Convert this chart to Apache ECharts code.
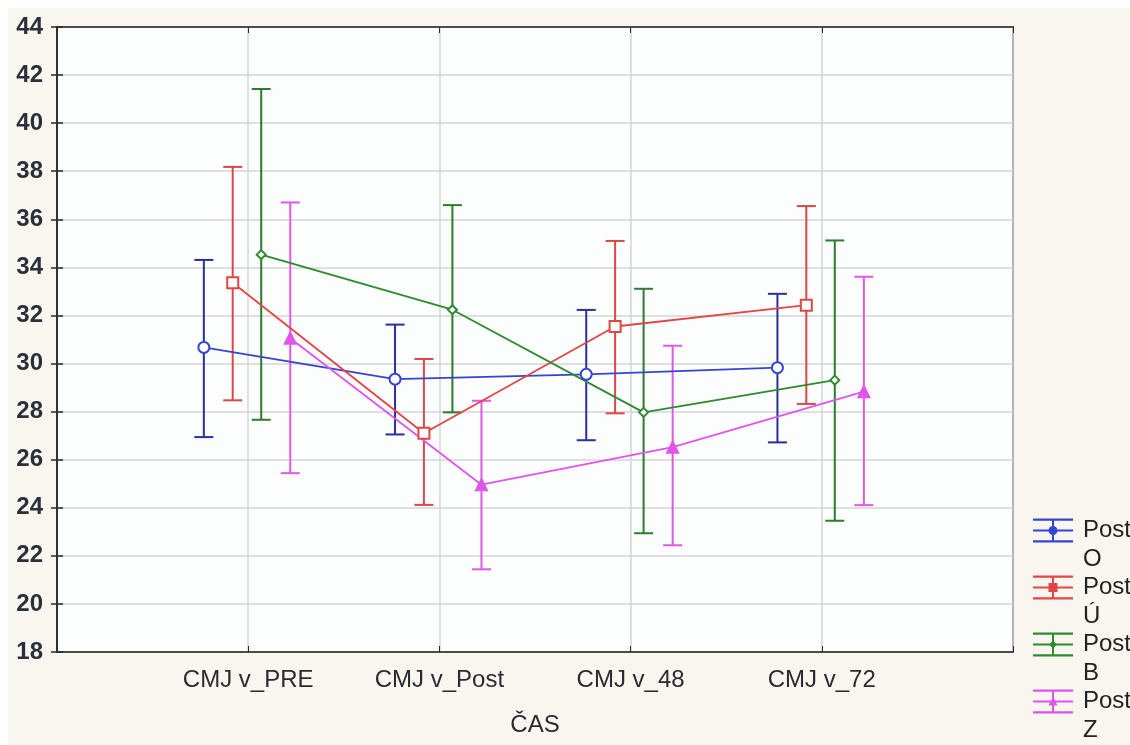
<!DOCTYPE html>
<html>
<head>
<meta charset="utf-8">
<script src="https://cdn.jsdelivr.net/npm/echarts@6/dist/echarts.min.js"></script>
<style>
  html, body { margin: 0; padding: 0; background: #ffffff; width: 1130px; height: 745px; overflow: hidden; }
  #chart { position: absolute; left: 8px; top: 8px; width: 1122px; height: 737px; background: #f8f6ee; }
</style>
</head>
<body>
<div id="chart"></div>
<script>
// ---- data ----
const categories = ['CMJ v_PRE', 'CMJ v_Post', 'CMJ v_48', 'CMJ v_72'];
const yTicks = [18, 20, 22, 24, 26, 28, 30, 32, 34, 36, 38, 40, 42, 44];
const seriesNames = ['Post O', 'Post Ú', 'Post B', 'Post Z'];

const postO_mean = [30.67, 29.35, 29.55, 29.83];
const postO_low  = [26.94, 27.05, 26.81, 26.72];
const postO_high = [34.31, 31.62, 32.23, 32.90];

const postU_mean = [33.36, 27.10, 31.54, 32.43];
const postU_low  = [28.47, 24.12, 27.93, 28.32];
const postU_high = [38.18, 30.19, 35.10, 36.55];

const postB_mean = [34.53, 32.24, 27.97, 29.31];
const postB_low  = [27.66, 27.97, 22.94, 23.46];
const postB_high = [41.42, 36.59, 33.11, 35.12];

const postZ_mean = [31.05, 24.96, 26.52, 28.83];
const postZ_low  = [25.44, 21.44, 22.44, 24.11];
const postZ_high = [36.70, 28.45, 30.74, 33.61];

// ---- styling ----
const colors = ['#3444d4', '#e04646', '#2e8a2e', '#e055ea'];
const barColors = ['#26309e', '#d84848', '#2e7a2e', '#df58e6'];
const offsets = [-0.232, -0.081, 0.068, 0.220];
const symbols = ['emptyCircle', 'emptyRect', 'emptyDiamond', 'triangle'];
const symbolSizes = [11, 11, 9, 11];
const FONT = 'Liberation Sans, Arial, sans-serif';

const groups = [
  {mean: postO_mean, low: postO_low, high: postO_high},
  {mean: postU_mean, low: postU_low, high: postU_high},
  {mean: postB_mean, low: postB_low, high: postB_high},
  {mean: postZ_mean, low: postZ_low, high: postZ_high}
];

const iconBars = 'M0,0H40V2.2H0Z M0,21.8H40V24H0Z M0,10.9H40V13.1H0Z M19,0H21V24H19Z ';
const iconMarkers = [
  'M15.5,12A4.5,4.5 0 1,1 24.5,12A4.5,4.5 0 1,1 15.5,12Z',
  'M15.5,7.5H24.5V16.5H15.5Z',
  'M20,8L24,12L20,16L16,12Z',
  'M20,7L24.5,16H15.5Z'
];

const series = [];
groups.forEach((g, k) => {
  series.push({
    type: 'custom',
    name: seriesNames[k],
    z: 3,
    data: categories.map((c, i) => [i + 1 + offsets[k], g.low[i], g.high[i]]),
    renderItem: function (params, api) {
      const x = api.value(0);
      const lo = api.coord([x, api.value(1)]);
      const hi = api.coord([x, api.value(2)]);
      const half = 9.5;
      const st = {stroke: barColors[k], lineWidth: 2};
      return {
        type: 'group',
        children: [
          {type: 'line', shape: {x1: hi[0], y1: hi[1], x2: lo[0], y2: lo[1]}, style: st},
          {type: 'line', shape: {x1: hi[0] - half, y1: hi[1], x2: hi[0] + half, y2: hi[1]}, style: st},
          {type: 'line', shape: {x1: lo[0] - half, y1: lo[1], x2: lo[0] + half, y2: lo[1]}, style: st}
        ]
      };
    },
    silent: true
  });
  series.push({
    type: 'line',
    name: seriesNames[k],
    z: 4,
    data: categories.map((c, i) => [i + 1 + offsets[k], g.mean[i]]),
    symbol: symbols[k],
    symbolSize: symbolSizes[k],
    showSymbol: true,
    lineStyle: {color: colors[k], width: 1.8},
    itemStyle: {color: colors[k], borderColor: colors[k], borderWidth: 2},
    silent: true,
    animation: false
  });
});

const legendTops = [479, 536, 593, 650];
const legends = seriesNames.map((n, k) => ({
  data: [{name: n, icon: 'path://' + iconBars + iconMarkers[k], itemStyle: {color: colors[k]}}],
  orient: 'vertical',
  left: 1025,
  top: legendTops[k],
  padding: 0,
  itemWidth: 40,
  itemHeight: 24,
  itemGap: 0,
  selectedMode: false,
  formatter: name => '\n' + name.split(' ').map(s => '{t|' + s + '}').join('\n'),
  textStyle: {
    fontFamily: FONT,
    fontSize: 24,
    lineHeight: 29,
    color: '#222',
    rich: {
      t: {fontFamily: FONT, fontSize: 24, lineHeight: 29, color: '#222', padding: [0, 0, 0, 5]}
    }
  }
}));

const chart = echarts.init(document.getElementById('chart'), null, {renderer: 'canvas'});
chart.setOption({
  animation: false,
  backgroundColor: '#f8f6ee',
  grid: {
    left: 49, top: 19, right: 117, bottom: 93,
    show: true, backgroundColor: '#fcfdfd', borderColor: '#2a2a2a', borderWidth: 1.5
  },
  legend: legends,
  xAxis: [
    {
      type: 'value', min: 0, max: 5, interval: 1,
      name: 'ČAS', nameLocation: 'middle', nameGap: 61,
      nameTextStyle: {fontFamily: FONT, fontSize: 24, color: '#2a2a33'},
      axisLine: {show: true, lineStyle: {color: '#2a2a2a', width: 1.5}},
      axisTick: {show: true, inside: true, length: 6, lineStyle: {color: '#2a2a2a'}},
      axisLabel: {
        margin: 16,
        fontFamily: FONT, fontSize: 24, color: '#2a2a33',
        formatter: v => categories[v - 1] || ''
      },
      splitLine: {show: true, lineStyle: {color: '#d4d4d4', width: 1.5}}
    },
    {
      type: 'value', min: 0, max: 5, interval: 1, position: 'top',
      axisLine: {show: true, lineStyle: {color: '#2a2a2a', width: 1.5}},
      axisTick: {show: true, inside: true, length: 6, lineStyle: {color: '#2a2a2a'}},
      axisLabel: {show: false},
      splitLine: {show: false}
    }
  ],
  yAxis: [
    {
      type: 'value', position: 'left', min: yTicks[0], max: yTicks[yTicks.length - 1], interval: 2,
      axisLine: {show: true, lineStyle: {color: '#2a2a2a', width: 1.5}},
      axisTick: {show: true, inside: false, length: -6, lineStyle: {color: '#2a2a2a', width: 1.5}},
      axisLabel: {
        margin: 14,
        fontFamily: FONT, fontSize: 24, fontWeight: 'bold', color: '#2a2f3a'
      },
      splitLine: {show: true, lineStyle: {color: '#d4d4d4', width: 1.5}}
    },
    {
      type: 'value', min: yTicks[0], max: yTicks[yTicks.length - 1], interval: 2, position: 'right',
      axisLine: {show: true, lineStyle: {color: '#2a2a2a', width: 1.5}},
      axisTick: {show: true, inside: false, length: -6, lineStyle: {color: '#2a2a2a', width: 1.5}},
      axisLabel: {show: false},
      splitLine: {show: false}
    }
  ],
  series: series
});
</script>
</body>
</html>
